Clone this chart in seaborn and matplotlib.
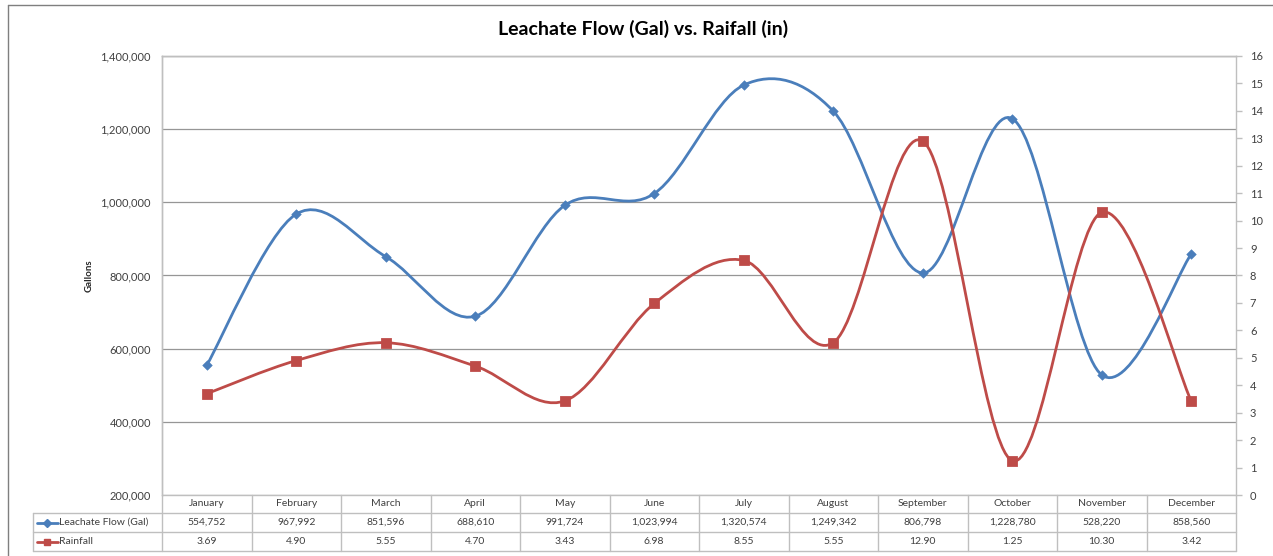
import numpy as np
import pandas as pd
import seaborn as sns
import matplotlib.pyplot as plt
from matplotlib.path import Path
from matplotlib.patches import PathPatch
from matplotlib.lines import Line2D
from matplotlib import transforms
from matplotlib.ticker import FuncFormatter

months = ['January', 'February', 'March', 'April', 'May', 'June', 'July',
          'August', 'September', 'October', 'November', 'December']
leachate_gal = [554752, 967992, 851596, 688610, 991724, 1023994, 1320574,
                1249342, 806798, 1228780, 528220, 858560]
rainfall_in = [3.69, 4.90, 5.55, 4.70, 3.43, 6.98, 8.55, 5.55, 12.90, 1.25, 10.30, 3.42]
leachate_labels = ['554,752', '967,992', '851,596', '688,610', '991,724', '1,023,994',
                   '1,320,574', '1,249,342', '806,798', '1,228,780', '528,220', '858,560']
rainfall_labels = ['3.69', '4.90', '5.55', '4.70', '3.43', '6.98', '8.55',
                   '5.55', '12.90', '1.25', '10.30', '3.42']

df = pd.DataFrame({'month': months, 'pos': np.arange(len(months)),
                   'leachate': leachate_gal, 'rainfall': rainfall_in})

BLUE = '#4a7ebb'
RED = '#be4b48'
GRID = '#969696'
LIGHT = '#bfbfbf'

sns.set_style('white')
plt.rcParams['font.family'] = ['Lato', 'DejaVu Sans']

W, H = 1273, 556
fig = plt.figure(figsize=(W / 100, H / 100), dpi=100)

def fx(px):
    return px / W

def fy(py):
    return 1 - py / H

left, right, top, bottom = 162, 1236, 56, 495
ax = fig.add_axes([fx(left), fy(bottom), fx(right - left), (bottom - top) / H])
ax2 = ax.twinx()


def smooth_path(xs, ys):
    # excel-style smoothed line: catmull-rom segments drawn as cubic beziers
    pts = np.column_stack([xs, ys]).astype(float)
    n = len(pts)
    verts = [pts[0]]
    codes = [Path.MOVETO]
    for i in range(n - 1):
        p0 = pts[max(i - 1, 0)]
        p1 = pts[i]
        p2 = pts[i + 1]
        p3 = pts[min(i + 2, n - 1)]
        verts += [p1 + (p2 - p0) / 6, p2 - (p3 - p1) / 6, p2]
        codes += [Path.CURVE4] * 3
    return Path(verts, codes)


ax.add_patch(PathPatch(smooth_path(df['pos'], df['leachate']), fill=False,
                       edgecolor=BLUE, linewidth=2, zorder=3))
sns.scatterplot(data=df, x='pos', y='leachate', ax=ax, marker='D', s=24,
                color=BLUE, edgecolor=BLUE, zorder=4, legend=False)
ax2.add_patch(PathPatch(smooth_path(df['pos'], df['rainfall']), fill=False,
                        edgecolor=RED, linewidth=2, zorder=3))
sns.scatterplot(data=df, x='pos', y='rainfall', ax=ax2, marker='s', s=50,
                color=RED, edgecolor=RED, zorder=4, legend=False)

ax.set_xlim(-0.5, 11.5)
ax.set_ylim(200000, 1400000)
ax.set_yticks(np.arange(200000, 1400001, 200000))
ax.yaxis.set_major_formatter(FuncFormatter(lambda v, p: f'{v:,.0f}'))
ax.grid(axis='y', color=GRID, linewidth=0.9)
ax.set_axisbelow(True)
ax.set_xticks([])
ax.set_xlabel('')
ax.set_ylabel('Gallons', fontsize=7, fontweight='bold', labelpad=5)
ax.tick_params(axis='y', length=0, labelsize=8, colors='#404040', pad=8)

ax2.set_ylim(0, 16)
ax2.set_yticks(range(0, 17))
ax2.set_ylabel('')
ax2.set_xticks([])
ax2.tick_params(axis='y', length=4, width=1, color=LIGHT, labelsize=8,
                labelcolor='#404040', pad=6)

for a in (ax, ax2):
    for s in a.spines.values():
        s.set_color(LIGHT)
        s.set_linewidth(1)
ax.spines['bottom'].set_visible(False)
ax2.spines['bottom'].set_visible(False)
ax.spines['right'].set_visible(False)

fig.text(fx(643), fy(29), 'Leachate Flow (Gal) vs. Raifall (in)', ha='center',
         va='center', fontsize=14, fontweight='bold', color='black')

# data table under the plot: x tied to the category axis, y in figure space
tr = transforms.blended_transform_factory(ax.transData, fig.transFigure)
row_y = [495, 513, 532, 551]
row_mid = [(row_y[i] + row_y[i + 1]) / 2 for i in range(3)]
line_kw = dict(color=LIGHT, linewidth=1)

for yy in row_y:
    x0 = left if yy == 495 else 33
    fig.add_artist(Line2D([fx(x0), fx(right)], [fy(yy), fy(yy)], **line_kw))
fig.add_artist(Line2D([fx(33), fx(33)], [fy(513), fy(551)], **line_kw))
for k in range(13):
    fig.add_artist(Line2D([k - 0.5, k - 0.5], [fy(495), fy(551)], transform=tr,
                          **line_kw))

for i, m in enumerate(months):
    fig.text(i, fy(row_mid[0]), m, transform=tr, ha='center', va='center',
             fontsize=7.5, color='#404040')
    fig.text(i, fy(row_mid[1]), leachate_labels[i], transform=tr, ha='center',
             va='center', fontsize=7.5, color='#404040')
    fig.text(i, fy(row_mid[2]), rainfall_labels[i], transform=tr, ha='center',
             va='center', fontsize=7.5, color='#404040')

# legend keys inside the row headers
for yy, col, mk, ms in [(row_mid[1], BLUE, 'D', 4), (row_mid[2], RED, 's', 5)]:
    fig.add_artist(Line2D([fx(37), fx(58)], [fy(yy)] * 2, color=col, linewidth=2))
    fig.add_artist(Line2D([fx(47.5)], [fy(yy)], color=col, marker=mk,
                          markersize=ms, linestyle='none'))
fig.text(fx(59), fy(row_mid[1]), 'Leachate Flow (Gal)', ha='left', va='center',
         fontsize=7.5, color='#404040')
fig.text(fx(59), fy(row_mid[2]), 'Rainfall', ha='left', va='center',
         fontsize=7.5, color='#404040')

# outer chart frame
fig.add_artist(Line2D([fx(8), fx(1273)], [fy(5), fy(5)], color='#7f7f7f', linewidth=1))
fig.add_artist(Line2D([fx(8), fx(8)], [fy(5), 0], color='#7f7f7f', linewidth=1))

fig.savefig('out.png', dpi=100)
